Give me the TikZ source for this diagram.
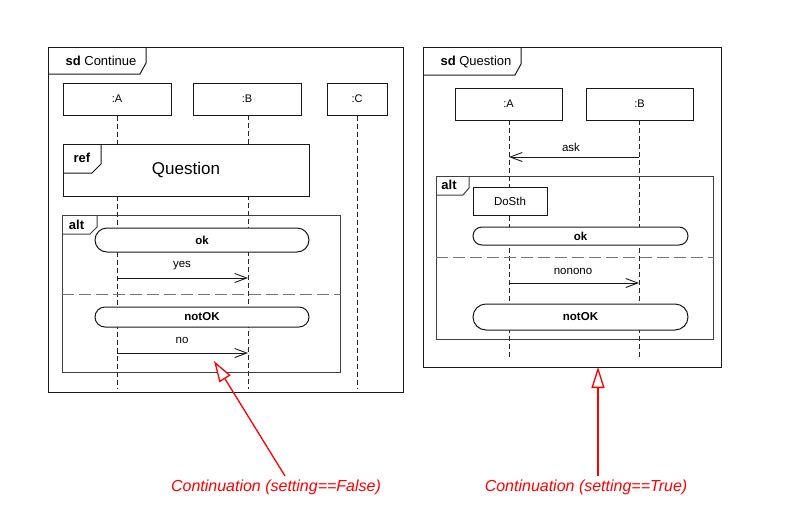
\documentclass[tikz,border=0pt]{standalone}
\usepackage{fontspec}
\setmainfont{Liberation Sans}
\usetikzlibrary{arrows.meta}
\begin{document}
\begin{tikzpicture}[x=1pt,y=-1pt,
  frm/.style={draw=black!90, line width=1pt},
  altfrm/.style={draw=black!75, line width=1pt},
  head/.style={draw=black!90, line width=1pt, fill=white, inner sep=0pt, font=\fontsize{11}{13}\selectfont},
  life/.style={draw=black!85, line width=0.9pt, dash pattern=on 5pt off 3pt},
  sep/.style={draw=black!55, line width=1pt, dash pattern=on 12pt off 5pt},
  cont/.style={draw=black!90, line width=1pt, fill=white, inner sep=0pt, font=\bfseries\fontsize{11.5}{13}\selectfont},
  actbox/.style={draw=black!90, line width=0.9pt, fill=white, inner sep=0pt, font=\fontsize{11.5}{13}\selectfont},
  msg/.style={draw=black!90, line width=0.9pt, -{Straight Barb[length=12pt,width=9pt,line width=0.9pt]}},
  mlab/.style={inner sep=0pt, font=\fontsize{11.5}{13}\selectfont},
  tablab/.style={inner sep=0pt, font=\fontsize{13}{15}\selectfont},
  note/.style={draw=red, line width=1.3pt, -{Triangle[length=21pt,width=13pt,fill=white,line width=1.3pt]}},
  notelab/.style={inner sep=0pt, text=red, font=\itshape\fontsize{16}{18}\selectfont}
]
\useasboundingbox (0,0) rectangle (803,517);
\fill[white] (0,0) rectangle (803,517);

% ---------------- left frame: sd Continue ----------------
\node[frm, minimum width=355pt, minimum height=345pt, anchor=north west, inner sep=0pt] (fL) at (48,47) {};
\draw[frm] (48,74) -- (140,74) -- (146,63) -- (146,47);
\node[tablab] (tL) at (101,61) {\textbf{sd} Continue};

\node[head, minimum width=108pt, minimum height=32pt] (lA) at (117,99) {:A};
\node[head, minimum width=108pt, minimum height=32pt] (lB) at (247,99) {:B};
\node[head, minimum width=60pt, minimum height=32pt] (lC) at (357,99) {:C};
\coordinate (endL) at (0,389);
\draw[life] (lA.south) -- (lA.south |- endL);
\draw[life] (248,115) -- (248,389);
\draw[life] (lC.south) -- (lC.south |- endL);

% alt fragment
\node[altfrm, minimum width=278pt, minimum height=157pt, anchor=north west, inner sep=0pt] (altL) at (62,215) {};
\draw[altfrm] (62,234) -- (90,234) -- (97,227) -- (97,215);
\node[tablab, font=\bfseries\fontsize{13}{15}\selectfont] (altLl) at (76.5,225) {alt};

\node[cont, minimum width=214pt, minimum height=24pt, rounded corners=12pt] (okL) at (202,240) {ok};
\coordinate (yesA) at (117,278);
\coordinate (yesB) at (248,278);
\draw[msg] (yesA) -- (yesB);
\node[mlab] (yesl) at (182,266) {yes};
\draw[sep] (altL.west |- 0,294) -- (altL.east |- 0,294);
\node[cont, minimum width=214pt, minimum height=20pt, rounded corners=10pt] (nokL) at (202,317) {notOK};
\coordinate (noA) at (117,353);
\coordinate (noB) at (248,353);
\draw[msg] (noA) -- (noB);
\node[mlab] (nol) at (182,340) {no};

% ref fragment
\node[frm, fill=white, minimum width=246pt, minimum height=52pt, inner sep=0pt, font=\fontsize{17}{20}\selectfont] (ref) at (186,170) {Question};
\draw[frm] (63,173) -- (92,173) -- (101,164) -- (101,144);
\node[tablab, font=\bfseries\fontsize{13}{15}\selectfont] (refl) at (82,157.5) {ref};

% ---------------- right frame: sd Question ----------------
\node[frm, minimum width=298pt, minimum height=320pt, anchor=north west, inner sep=0pt] (fR) at (423,47) {};
\draw[frm] (423,75) -- (515,75) -- (521,64) -- (521,47);
\node[tablab] (tR) at (476,62) {\textbf{sd} Question};

\node[head, minimum width=107pt, minimum height=32pt] (rA) at (508.5,104) {:A};
\node[head, minimum width=107pt, minimum height=32pt] (rB) at (639.5,104) {:B};
\coordinate (endR) at (0,358);
\draw[life] (509,120) -- (509,358);
\draw[life] (639,120) -- (639,358);

\coordinate (askB) at (639,157);
\coordinate (askA) at (509,157);
\draw[msg] (askB) -- (askA);
\node[mlab] (askl) at (571,147) {ask};

\node[altfrm, minimum width=277pt, minimum height=163pt, anchor=north west, inner sep=0pt] (altR) at (436,176) {};
\draw[altfrm] (436,195) -- (463,195) -- (469,188) -- (469,176);
\node[tablab, font=\bfseries\fontsize{13}{15}\selectfont] (altRl) at (449,185) {alt};

\node[actbox, minimum width=74pt, minimum height=28pt] (dosth) at (510,201) {DoSth};
\node[cont, minimum width=215pt, minimum height=18pt, rounded corners=9pt] (okR) at (580.5,236) {ok};
\draw[sep] (altR.west |- 0,257) -- (altR.east |- 0,257);
\coordinate (nnA) at (509,283);
\coordinate (nnB) at (639,283);
\draw[msg] (nnA) -- (nnB);
\node[mlab] (nnl) at (573,271) {nonono};
\node[cont, minimum width=215pt, minimum height=26pt, rounded corners=13pt] (nokR) at (580.5,317) {notOK};

% ---------------- notes ----------------
\node[notelab] (cF) at (276,487) {Continuation (setting==False)};
\node[notelab] (cT) at (586,487) {Continuation (setting==True)};
\coordinate (cFs) at (285,476);
\coordinate (cFt) at (214,361);
\coordinate (cTs) at (598,476);
\coordinate (cTt) at (598,367);
\draw[note] (cFs) -- (cFt);
\draw[note] (cTs) -- (cTt);
\end{tikzpicture}
\end{document}
